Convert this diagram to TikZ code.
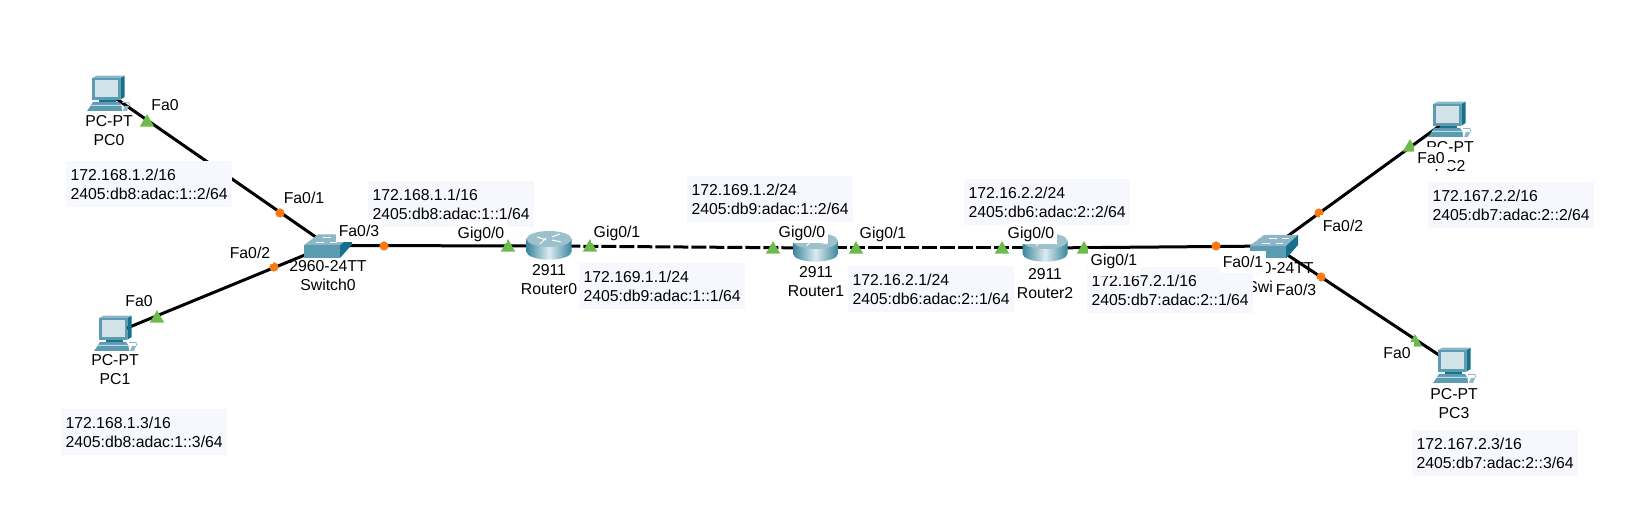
\documentclass[tikz,border=0pt]{standalone}
\usepackage{fontspec}
\setmainfont{Liberation Sans}
\usetikzlibrary{shapes.geometric}
\definecolor{linkup}{HTML}{6DBB4B}
\definecolor{linkwait}{HTML}{F97A12}
\definecolor{addrbg}{HTML}{F6F8FE}
\definecolor{iconfront}{HTML}{5C9CB2}
\definecolor{iconside}{HTML}{17708B}
\definecolor{icontop}{HTML}{8DB7C6}
\definecolor{iconscreen}{HTML}{D2E2E9}
\definecolor{routeredge}{HTML}{3A859E}
\definecolor{routermid}{HTML}{DCEBF0}
\definecolor{routertop}{HTML}{9CC0CC}
\tikzset{
  every node/.style={font=\fontsize{7.9}{9.5}\selectfont},
  devpoint/.style={inner sep=0pt,minimum size=0pt},
  link/.style={line width=1.5pt,black},
  dashlink/.style={link,dash pattern=on 7.5pt off 1.5pt,dash phase=0.85pt},
  devlabel/.style={align=center,inner sep=0pt},
  addrbox/.style={fill=addrbg,align=left,text width=78.5pt,inner xsep=2.25pt,inner ysep=0pt,minimum height=23pt},
  portlabel/.style={fill=white,inner xsep=1.5pt,inner ysep=0pt,text height=8.35pt,text depth=2.65pt},
  upmark/.style={regular polygon,regular polygon sides=3,fill=linkup,inner sep=0pt,minimum size=8.4pt},
  waitmark/.style={circle,fill=linkwait,inner sep=0pt,minimum size=4.6pt},
  pics/pcicon/.style={code={
    \fill[iconside] (12.3,-15) -- (16.7,-17.3) -- (16.7,4) -- (12.3,6.7) -- cycle;
    \fill[icontop] (-15.7,-15) -- (-11.5,-17.3) -- (16.7,-17.3) -- (12.3,-15) -- cycle;
    \fill[iconfront] (-15.7,-15) rectangle (12.3,6.7);
    \fill[iconscreen] (-13,-12.5) rectangle (10,4.5);
    \fill[iconside] (-9,6.7) rectangle (8,9);
    \fill[iconfront] (-15,9) -- (11,9) -- (13,12) -- (-17,12) -- cycle;
    \fill[iconscreen] (-17,12) -- (13,12) -- (13.5,13) -- (-17.5,13) -- cycle;
    \fill[iconfront] (-17.5,13) -- (13.5,13) -- (14,18) -- (-21,18) -- cycle;
    \fill[icontop] (17,13) -- (21,13) -- (19,18) -- (15,18) -- cycle;
    \draw[icontop,line width=0.4pt] (14,9.5) -- (21,9.5) -- (22,13);
  }},
  pics/switchicon/.style={code={
    \fill[icontop] (-24.5,0) -- (-10,-11) -- (24,-11) -- (12,0) -- cycle;
    \fill[iconfront] (-24.5,0) rectangle (12,12.5);
    \fill[iconside] (12,0) -- (24,-11) -- (24,-1) -- (12,12.5) -- cycle;
    \draw[white,line width=0.4pt] (-12,-3) -- (-4,-3) (-5,-8) -- (3,-8) (2,-3) -- (9,-3) (8,-8) -- (15,-8);
  }},
  pics/routericon/.style={code={
    \shade[left color=routeredge,right color=routeredge,middle color=routermid]
      (-22.5,-7) -- (-22.5,5.7) arc[start angle=180,end angle=360,x radius=22.5,y radius=-8] -- (22.5,-7) -- cycle;
    \fill[routertop] (0,-7) ellipse[x radius=22.5,y radius=8];
    \draw[white,line width=0.5pt] (-12,-9) -- (-3,-6) (3,-9) -- (11,-12) (3,-6) -- (12,-4) (-3,-8) -- (-9,-2);
  }}
}
\begin{document}
\begin{tikzpicture}[x=0.5pt,y=-0.5pt]
    \useasboundingbox (0,0) rectangle (1630,517);
    % devices
    \node[devpoint] (pc0) at (108,93) {};
    \node[devpoint] (pc1) at (115,333) {};
    \node[devpoint] (pc2) at (1449,119) {};
    \node[devpoint] (pc3) at (1454,365) {};
    \node[devpoint] (sw0) at (328,245.5) {};
    \node[devpoint] (sw1) at (1274,246) {};
    \node[devpoint] (r0) at (549,246) {};
    \node[devpoint] (r1) at (815.5,248) {};
    \node[devpoint] (r2) at (1045,248) {};
    % links
    \draw[link] (pc0.center) -- (sw0.center);
    \draw[link] (pc1.center) -- (sw0.center);
    \draw[link] (sw0.center) -- (r0.center);
    \draw[dashlink] (r0.center) -- (r1.center);
    \draw[dashlink] (r1.center) -- (r2.center);
    \draw[link] (r2.center) -- (sw1.center);
    \draw[link] (sw1.center) -- (pc2.center);
    \draw[link] (sw1.center) -- (pc3.center);
    % icons
    \pic at (pc0) {pcicon};
    \pic at (pc1) {pcicon};
    \pic at (pc2) {pcicon};
    \pic at (pc3) {pcicon};
    \pic at (sw0) {switchicon};
    \pic at (sw1) {switchicon};
    \pic at (r0) {routericon};
    \pic at (r1) {routericon};
    \pic at (r2) {routericon};
    % port lights
    \node[upmark] (pc0up) at (147,122.5) {};
    \node[upmark] (pc1up) at (157,318.5) {};
    \node[upmark] (r0upa) at (508,247.5) {};
    \node[upmark] (r0upb) at (590,247.5) {};
    \node[upmark] (r1upa) at (773,249.5) {};
    \node[upmark] (r1upb) at (856,249.5) {};
    \node[upmark] (r2upa) at (1002,249.5) {};
    \node[upmark] (r2upb) at (1084,249.5) {};
    \node[upmark] (pc2up) at (1410,147.5) {};
    \node[upmark] (pc3up) at (1415,342.5) {};
    \node[waitmark] (sw0waita) at (280,213) {};
    \node[waitmark] (sw0waitb) at (274,267) {};
    \node[waitmark] (sw0waitc) at (384,246) {};
    \node[waitmark] (sw1waita) at (1216,246) {};
    \node[waitmark] (sw1waitb) at (1319,213) {};
    \node[waitmark] (sw1waitc) at (1321,277) {};
    % device names
    \node[devlabel] (pc0txt) at (109,131) {PC-PT\\PC0};
    \node[devlabel] (pc1txt) at (115,370) {PC-PT\\PC1};
    \node[devlabel] (pc2txt) at (1450,156.5) {PC-PT\\PC2};
    \node[devlabel] (pc3txt) at (1454,403.5) {PC-PT\\PC3};
    \node[devlabel] (sw0txt) at (328,276) {2960-24TT\\Switch0};
    \node[devlabel] (sw1txt) at (1275,277.5) {2960-24TT\\Switch1};
    \node[devlabel] (r0txt) at (549,280) {2911\\Router0};
    \node[devlabel] (r1txt) at (816,282) {2911\\Router1};
    \node[devlabel] (r2txt) at (1045,284) {2911\\Router2};
    % addresses
    \node[addrbox] (pc0addr) at (149,184) {172.168.1.2/16\\2405:db8:adac:1::2/64};
    \node[addrbox] (pc1addr) at (144,432) {172.168.1.3/16\\2405:db8:adac:1::3/64};
    \node[addrbox] (r0addra) at (451,204) {172.168.1.1/16\\2405:db8:adac:1::1/64};
    \node[addrbox] (r0addrb) at (662,286.5) {172.169.1.1/24\\2405:db9:adac:1::1/64};
    \node[addrbox] (r1addra) at (770,199) {172.169.1.2/24\\2405:db9:adac:1::2/64};
    \node[addrbox] (r1addrb) at (931,289) {172.16.2.1/24\\2405:db6:adac:2::1/64};
    \node[addrbox] (r2addra) at (1047,202) {172.16.2.2/24\\2405:db6:adac:2::2/64};
    \node[addrbox] (r2addrb) at (1170,290) {172.167.2.1/16\\2405:db7:adac:2::1/64};
    \node[addrbox] (pc2addr) at (1511,205) {172.167.2.2/16\\2405:db7:adac:2::2/64};
    \node[addrbox] (pc3addr) at (1495,453) {172.167.2.3/16\\2405:db7:adac:2::3/64};
    % port names
    \node[portlabel] (pc0port) at (165,105) {Fa0};
    \node[portlabel] (pc1port) at (139,301) {Fa0};
    \node[portlabel] (pc2port) at (1431,158) {Fa0};
    \node[portlabel] (pc3port) at (1397,353) {Fa0};
    \node[portlabel] (sw0porta) at (304,198) {Fa0/1};
    \node[portlabel] (sw0portb) at (250,253) {Fa0/2};
    \node[portlabel] (sw0portc) at (359,231) {Fa0/3};
    \node[portlabel] (r0porta) at (481,232.5) {Gig0/0};
    \node[portlabel] (r0portb) at (617,232) {Gig0/1};
    \node[portlabel] (r1porta) at (802,232) {Gig0/0};
    \node[portlabel] (r1portb) at (883,233) {Gig0/1};
    \node[portlabel] (r2porta) at (1031,233) {Gig0/0};
    \node[portlabel,text depth=5pt,anchor=base] (r2portb) at (1114,265.7) {Gig0/1};
    \node[portlabel] (sw1porta) at (1243,262) {Fa0/1};
    \node[portlabel] (sw1portb) at (1343,226) {Fa0/2};
    \node[portlabel] (sw1portc) at (1296,290) {Fa0/3};
\end{tikzpicture}
\end{document}
